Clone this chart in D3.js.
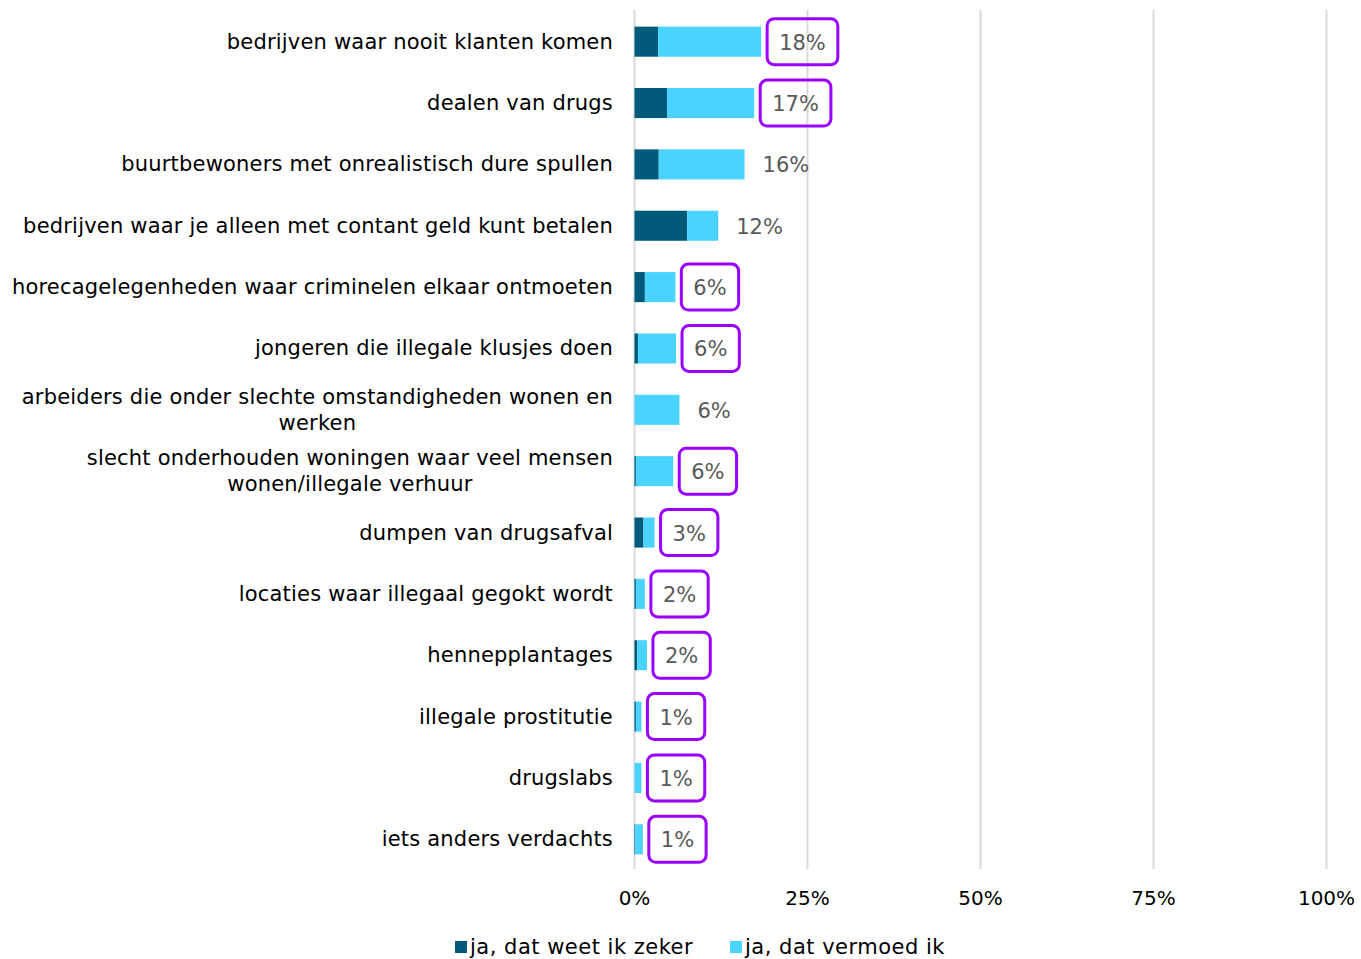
<!DOCTYPE html>
<html>
<head>
<meta charset="utf-8">
<script src="https://cdn.jsdelivr.net/npm/d3@7"></script>
<style>
  body { margin: 0; background: #fff; }
  svg { display: block; }
</style>
</head>
<body>
<svg width="1361" height="959"></svg>
<script>
const categories = [
  'bedrijven waar nooit klanten komen',
  'dealen van drugs',
  'buurtbewoners met onrealistisch dure spullen',
  'bedrijven waar je alleen met contant geld kunt betalen',
  'horecagelegenheden waar criminelen elkaar ontmoeten',
  'jongeren die illegale klusjes doen',
  'arbeiders die onder slechte omstandigheden wonen en|werken',
  'slecht onderhouden woningen waar veel mensen|wonen/illegale verhuur',
  'dumpen van drugsafval',
  'locaties waar illegaal gegokt wordt',
  'hennepplantages',
  'illegale prostitutie',
  'drugslabs',
  'iets anders verdachts'
];
const zeker =    [3.4, 4.7, 3.5, 7.6, 1.5, 0.5, 0.0, 0.2, 1.3, 0.2, 0.4, 0.2, 0.0, 0.1];
const vermoed =  [14.9, 12.6, 12.4, 4.5, 4.4, 5.5, 6.5, 5.4, 1.6, 1.3, 1.4, 0.8, 1.0, 1.1];
const labels =   ['18%','17%','16%','12%','6%','6%','6%','6%','3%','2%','2%','1%','1%','1%'];
const boxed =    [true, true, false, false, true, true, false, true, true, true, true, true, true, true];
const ticks =    [0, 25, 50, 75, 100];
const seriesNames = ['ja, dat weet ik zeker', 'ja, dat vermoed ik'];
const colors = ['#005B7B', '#4BD3FF'];

const svg = d3.select('svg');
const font = 'DejaVu Sans, Verdana, sans-serif';

const x = d3.scaleLinear().domain([0, 100]).range([634.5, 1326.5]);
const y = d3.scaleBand().domain(categories).range([11, 870]).paddingInner(0.51).paddingOuter(0.255);

// gridlines
svg.selectAll('.grid').data(ticks).enter().append('line')
  .attr('x1', d => x(d)).attr('x2', d => x(d))
  .attr('y1', 10).attr('y2', 869)
  .attr('stroke', '#d9d9d9').attr('stroke-width', 2);

// tick labels
svg.selectAll('.tick').data(ticks).enter().append('text')
  .attr('x', d => x(d)).attr('y', 905)
  .attr('text-anchor', 'middle')
  .attr('font-family', font).attr('font-size', 20)
  .attr('fill', '#000')
  .text(d => d + '%');

const rows = categories.map((c, i) => ({c, z: zeker[i], v: vermoed[i], label: labels[i], boxed: boxed[i]}));

// bars
svg.selectAll('.zeker').data(rows).enter().append('rect')
  .attr('x', x(0)).attr('y', d => y(d.c))
  .attr('width', d => x(d.z) - x(0)).attr('height', y.bandwidth())
  .attr('fill', colors[0]);
svg.selectAll('.vermoed').data(rows).enter().append('rect')
  .attr('x', d => x(d.z)).attr('y', d => y(d.c))
  .attr('width', d => x(d.z + d.v) - x(d.z)).attr('height', y.bandwidth())
  .attr('fill', colors[1]);

// value labels
const vl = svg.selectAll('.val').data(rows).enter().append('g');
vl.append('text')
  .attr('x', d => x(d.z + d.v) + 18)
  .attr('y', d => y(d.c) + y.bandwidth() / 2 + 8)
  .attr('font-family', font).attr('font-size', 21)
  .attr('fill', '#595959')
  .text(d => d.label)
  .each(function(d) { d.tw = this.getComputedTextLength(); });
vl.filter(d => d.boxed).insert('rect', 'text')
  .attr('x', d => x(d.z + d.v) + 6)
  .attr('y', d => y(d.c) + y.bandwidth() / 2 - 23)
  .attr('width', d => d.tw + 24).attr('height', 46)
  .attr('rx', 7)
  .attr('fill', 'none').attr('stroke', '#9A00FF').attr('stroke-width', 3);

// category labels
const right = 613;
svg.selectAll('.cat').data(rows).enter().append('text')
  .attr('font-family', font).attr('font-size', 21).attr('letter-spacing', 0.2).attr('fill', '#000')
  .each(function(d) {
    const lines = d.c.split('|');
    const t = d3.select(this);
    const cy = y(d.c) + y.bandwidth() / 2;
    const lh = 26;
    const spans = lines.map((l, k) => t.append('tspan').text(l)
      .attr('y', cy + 7 + (k - (lines.length - 1) / 2) * lh));
    const w = d3.max(spans, s => s.node().getComputedTextLength());
    spans.forEach(s => s.attr('x', right - w / 2).attr('text-anchor', 'middle'));
  });

// legend
const legX = [455, 730];
seriesNames.forEach((n, i) => {
  svg.append('rect').attr('x', legX[i]).attr('y', 941).attr('width', 12).attr('height', 12).attr('fill', colors[i]);
  svg.append('text').attr('x', legX[i] + 15).attr('y', 954)
    .attr('font-family', font).attr('font-size', 21).attr('letter-spacing', 0.5)
    .attr('fill', '#000').text(n);
});
</script>
</body>
</html>
